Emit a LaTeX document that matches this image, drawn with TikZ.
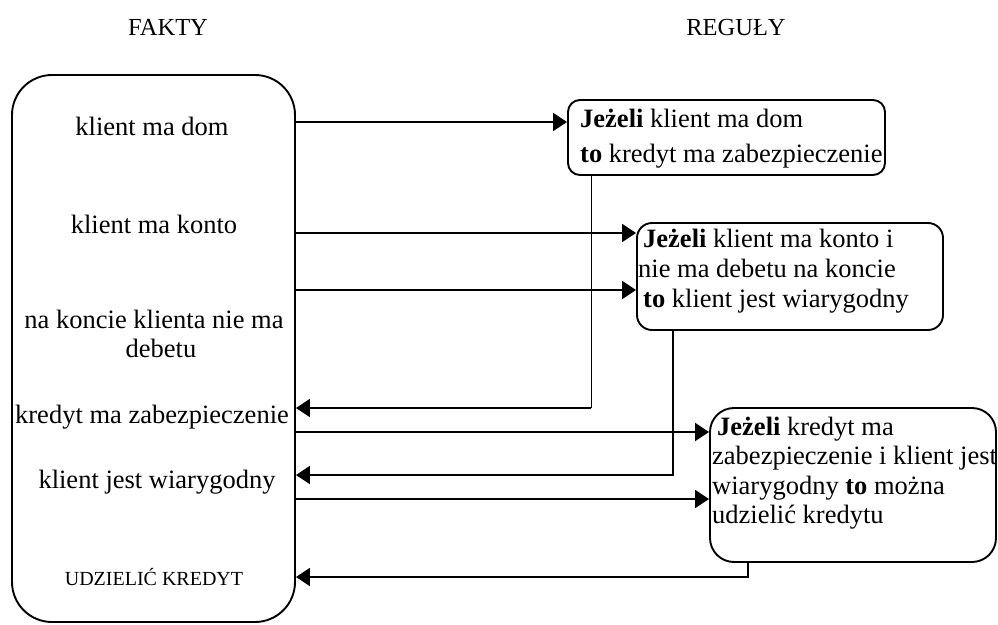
\documentclass[tikz,border=0pt]{standalone}
\usepackage{fontspec}
\setmainfont{Liberation Serif}
\usetikzlibrary{arrows.meta}
\begin{document}
\begin{tikzpicture}[x=1pt,y=-1pt,
  fact/.style={inner sep=0pt,anchor=base,font=\fontsize{26.5}{29}\selectfont},
  head/.style={inner sep=0pt,anchor=base,font=\fontsize{24.5}{28}\selectfont},
  factsbox/.style={draw,line width=1.9pt,rounded corners=40pt,inner sep=0pt},
  rulebox/.style={draw,line width=1.9pt,inner sep=0pt},
  ruletext/.style={inner sep=0pt,anchor=north west,align=left},
  conn/.style={line width=1.9pt},
  thinconn/.style={line width=0.9pt},
  tip/.style={-{Triangle[length=14pt,width=18pt]}}]
\useasboundingbox (0,0) rectangle (998,624);

% column headings
\node[head] (hf) at (168,35) {FAKTY};
\node[head] (hr) at (736,35) {REGUŁY};

% facts column
\node[factsbox,minimum width=283pt,minimum height=547pt] (facts) at (153.5,348.5) {};
\node[fact] (f1) at (152,135) {klient ma dom};
\node[fact] (f2) at (154,233) {klient ma konto};
\node[fact,anchor=north,align=center] (f3) at (154,310) {na koncie klienta nie ma\\\hspace{14pt}debetu};
\node[fact] (f4) at (152,423) {kredyt ma zabezpieczenie};
\node[fact] (f5) at (157,488) {klient jest wiarygodny};
\node[fact,font=\fontsize{20}{24}\selectfont] (f6) at (154,585) {UDZIELIĆ KREDYT};

% rule boxes
\node[rulebox,rounded corners=12pt,minimum width=317pt,minimum height=75pt] (r1) at (726.5,137.5) {};
\node[rulebox,rounded corners=15pt,minimum width=306pt,minimum height=107pt] (r2) at (790,276.5) {};
\node[rulebox,rounded corners=24pt,minimum width=286pt,minimum height=154pt] (r3) at (853,485) {};

\node[ruletext,font=\fontsize{26.5}{35}\selectfont] (t1) at (580,109)
  {\textbf{Jeżeli} klient ma dom\\\textbf{to} kredyt ma zabezpieczenie};
\node[ruletext,font=\fontsize{26.5}{30}\selectfont] (t2) at (638,229)
  {\hspace{5pt}\textbf{Jeżeli} klient ma konto i\\nie ma debetu na koncie\\\hspace{5pt}\textbf{to} klient jest wiarygodny};
\node[ruletext,font=\fontsize{26.5}{29.3}\selectfont] (t3) at (712,417)
  {\hspace{5pt}\textbf{Jeżeli} kredyt ma\\zabezpieczenie i klient jest\\wiarygodny \textbf{to} można\\udzielić kredytu};

% connector levels and drop lines
\coordinate (y1) at (0,122);
\coordinate (y2) at (0,233);
\coordinate (y3) at (0,290);
\coordinate (y4) at (0,408);
\coordinate (y5) at (0,432);
\coordinate (y6) at (0,475);
\coordinate (y7) at (0,499);
\coordinate (y8) at (0,577);
\coordinate (x1) at (591,0);
\coordinate (x2) at (673,0);
\coordinate (x3) at (748,0);

% facts feeding the rules
\draw[conn,tip] (facts.east |- y1) -- (r1.west |- y1);
\draw[conn,tip] (facts.east |- y2) -- (r2.west |- y2);
\draw[conn,tip] (facts.east |- y3) -- (r2.west |- y3);
\draw[conn,tip] (facts.east |- y5) -- (r3.west |- y5);
\draw[conn,tip] (facts.east |- y7) -- (r3.west |- y7);

% conclusions returned as new facts
\draw[thinconn] (r1.south -| x1) -- (x1 |- y4);
\draw[conn,tip] (x1 |- y4) -- (facts.east |- y4);
\draw[conn,tip] (r2.south -| x2) |- (facts.east |- y6);
\draw[conn,tip] (r3.south -| x3) |- (facts.east |- y8);
\end{tikzpicture}
\end{document}
